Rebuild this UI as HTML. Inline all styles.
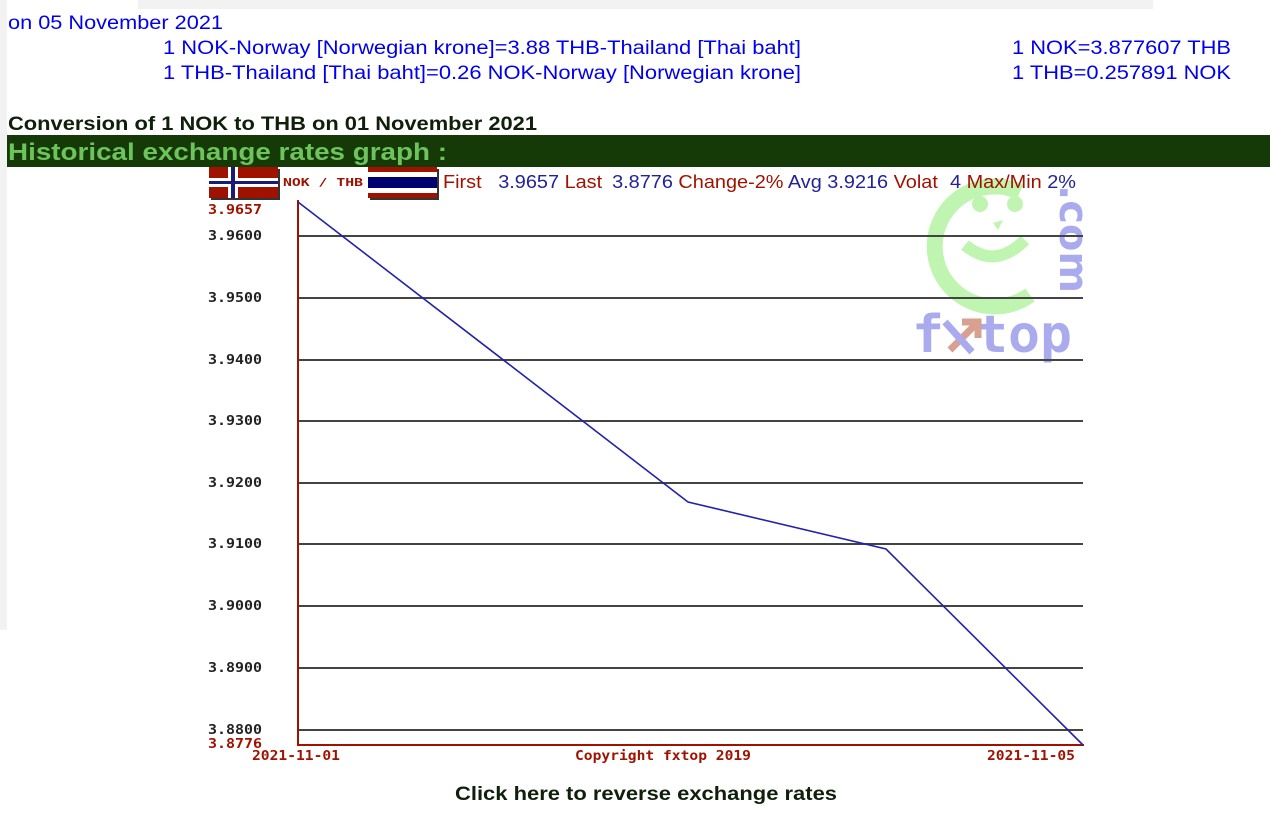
<!DOCTYPE html>
<html><head><meta charset="utf-8"><style>
html,body{margin:0;padding:0;background:#fff;width:1270px;height:826px;overflow:hidden}
svg{display:block}
</style></head><body>
<svg width="1270" height="826" xmlns="http://www.w3.org/2000/svg" font-family="Liberation Sans, sans-serif">
<rect x="0" y="0" width="7" height="630" fill="#f2f2f2"/>
<rect x="138" y="0" width="1015" height="9" fill="#f2f2f2"/>
<g fill="#0000ee" font-size="19" lengthAdjust="spacingAndGlyphs">
<text x="8" y="29" textLength="215" lengthAdjust="spacingAndGlyphs">on 05 November 2021</text>
<text x="163" y="54" textLength="638" lengthAdjust="spacingAndGlyphs">1 NOK-Norway [Norwegian krone]=3.88 THB-Thailand [Thai baht]</text>
<text x="163" y="79" textLength="638" lengthAdjust="spacingAndGlyphs">1 THB-Thailand [Thai baht]=0.26 NOK-Norway [Norwegian krone]</text>
<text x="1012" y="54" textLength="219" lengthAdjust="spacingAndGlyphs">1 NOK=3.877607 THB</text>
<text x="1012" y="79" textLength="219" lengthAdjust="spacingAndGlyphs">1 THB=0.257891 NOK</text>
</g>
<text x="8" y="130" font-size="19" font-weight="bold" fill="#0f1f0a" textLength="529" lengthAdjust="spacingAndGlyphs">Conversion of 1 NOK to THB on 01 November 2021</text>
<rect x="7" y="135" width="1263" height="32" fill="#153a08"/>
<text x="8" y="160" font-size="24" font-weight="bold" fill="#6cc45a" textLength="439" lengthAdjust="spacingAndGlyphs">Historical exchange rates graph :</text>

<!-- watermark -->
<path d="M1020 192 A60 60 0 1 0 1030 295" fill="none" stroke="#bff5b0" stroke-width="16"/>
<circle cx="980" cy="204" r="8" fill="#bff5b0"/><circle cx="1015" cy="204" r="8" fill="#bff5b0"/>
<path d="M993 223 L1003 220 L998 230 Z" fill="#bff5b0"/>
<path d="M965 245 Q995 270 1025 240" fill="none" stroke="#bff5b0" stroke-width="12"/>
<text x="912" y="352" font-family="DejaVu Sans Mono, monospace" font-size="52" fill="#aaaaee" font-weight="bold" textLength="160" lengthAdjust="spacingAndGlyphs">f&#160;top</text>
<path d="M950 350 L975 325 M962 322 L978 322 L978 338" stroke="#d8a090" stroke-width="7" fill="none"/>
<path d="M945 322 L972 352" stroke="#aaaaee" stroke-width="7"/>
<text x="1060" y="185" transform="rotate(90 1060 185)" font-family="DejaVu Sans, sans-serif" font-size="40" fill="#aaaaee" font-weight="bold">.com</text>

<!-- flags -->
<rect x="211" y="169" width="69" height="31" fill="#333"/>
<rect x="209" y="167" width="69" height="31" fill="#a01200"/>
<rect x="228" y="167" width="10" height="31" fill="#fff"/><rect x="209" y="178" width="69" height="9" fill="#fff"/>
<rect x="231" y="167" width="4" height="31" fill="#1a1a7a"/><rect x="209" y="181" width="69" height="3" fill="#1a1a7a"/>
<rect x="370" y="169" width="69" height="31" fill="#333"/>
<rect x="368" y="167" width="69" height="31" fill="#a01200"/>
<rect x="368" y="172" width="69" height="21" fill="#fff"/>
<rect x="368" y="177" width="69" height="11" fill="#000070"/>
<text x="283" y="186" font-family="DejaVu Sans Mono, monospace" font-size="11" font-weight="bold" fill="#a01200" textLength="80" lengthAdjust="spacingAndGlyphs">NOK / THB</text>
<text x="443" y="188" font-size="18" fill="#a01200" textLength="633" lengthAdjust="spacingAndGlyphs">First <tspan fill="#22229a" dx="10">3.9657</tspan> Last <tspan fill="#22229a" dx="4">3.8776</tspan> Change-2% <tspan fill="#22229a">Avg 3.9216</tspan> Volat <tspan fill="#22229a" dx="6">4</tspan> Max/Min <tspan fill="#22229a">2%</tspan></text>

<!-- grid -->
<g stroke="#444" stroke-width="2">
<line x1="298" x2="1083" y1="236" y2="236"/><line x1="298" x2="1083" y1="298" y2="298"/>
<line x1="298" x2="1083" y1="360" y2="360"/><line x1="298" x2="1083" y1="421" y2="421"/>
<line x1="298" x2="1083" y1="483" y2="483"/><line x1="298" x2="1083" y1="544" y2="544"/>
<line x1="298" x2="1083" y1="606" y2="606"/><line x1="298" x2="1083" y1="668" y2="668"/>
<line x1="298" x2="1083" y1="730" y2="730"/>
</g>
<line x1="298" y1="200" x2="298" y2="746" stroke="#a01200" stroke-width="2"/>
<line x1="298" y1="745" x2="1084" y2="745" stroke="#a01200" stroke-width="2"/>
<polyline points="298,202 688,502 886,549 1083,745" fill="none" stroke="#2222aa" stroke-width="1.6"/>
<g font-family="DejaVu Sans Mono, monospace" font-size="13" font-weight="bold" fill="#222">
<text x="208" y="240" textLength="54" lengthAdjust="spacingAndGlyphs">3.9600</text><text x="208" y="302" textLength="54" lengthAdjust="spacingAndGlyphs">3.9500</text><text x="208" y="364" textLength="54" lengthAdjust="spacingAndGlyphs">3.9400</text>
<text x="208" y="425" textLength="54" lengthAdjust="spacingAndGlyphs">3.9300</text><text x="208" y="487" textLength="54" lengthAdjust="spacingAndGlyphs">3.9200</text><text x="208" y="548" textLength="54" lengthAdjust="spacingAndGlyphs">3.9100</text>
<text x="208" y="610" textLength="54" lengthAdjust="spacingAndGlyphs">3.9000</text><text x="208" y="672" textLength="54" lengthAdjust="spacingAndGlyphs">3.8900</text><text x="208" y="734" textLength="54" lengthAdjust="spacingAndGlyphs">3.8800</text>
</g>
<g font-family="DejaVu Sans Mono, monospace" font-size="13" font-weight="bold" fill="#a01200">
<text x="208" y="214" textLength="54" lengthAdjust="spacingAndGlyphs">3.9657</text><text x="208" y="748" textLength="54" lengthAdjust="spacingAndGlyphs">3.8776</text>
<text x="252" y="760" textLength="88" lengthAdjust="spacingAndGlyphs">2021-11-01</text>
<text x="575" y="760" textLength="176" lengthAdjust="spacingAndGlyphs">Copyright fxtop 2019</text>
<text x="987" y="760" textLength="88" lengthAdjust="spacingAndGlyphs">2021-11-05</text>
</g>
<text x="455" y="800" font-size="19" font-weight="bold" fill="#0f1f0a" textLength="382" lengthAdjust="spacingAndGlyphs">Click here to reverse exchange rates</text>
</svg>
</body></html>
